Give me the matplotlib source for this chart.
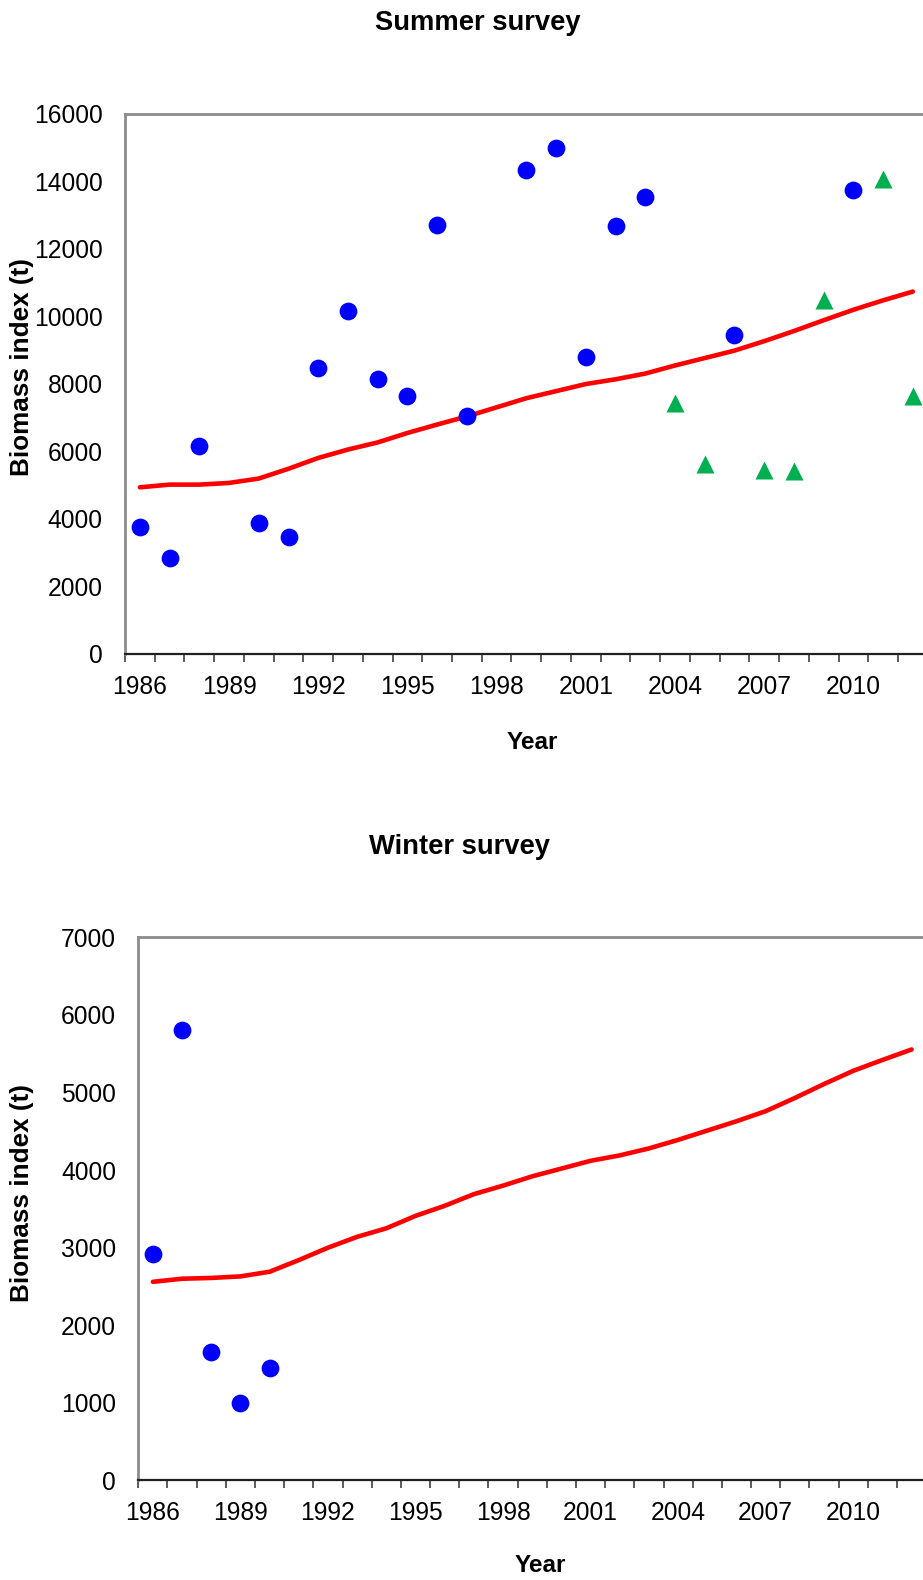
import matplotlib
matplotlib.use("Agg")
import matplotlib.pyplot as plt
from matplotlib.ticker import FixedLocator

plt.rcParams["font.family"] = ["Liberation Sans", "DejaVu Sans"]

years = list(range(1986, 2013))
year_ticks = list(range(1986, 2013, 3))

# summer survey
summer_circle_years = [1986, 1987, 1988, 1990, 1991, 1992, 1993, 1994, 1995, 1996,
                       1997, 1999, 2000, 2001, 2002, 2003, 2006, 2010]
summer_circle = [3740, 2850, 6140, 3880, 3450, 8470, 10150, 8150, 7640, 12710,
                 7030, 14330, 14990, 8780, 12670, 13530, 9450, 13730]
summer_tri_years = [2004, 2005, 2007, 2008, 2009, 2011, 2012]
summer_tri = [7440, 5630, 5430, 5400, 10480, 14060, 7630]
summer_trend = [4930, 5010, 5010, 5060, 5190, 5480, 5800, 6050, 6260, 6540, 6790,
                7030, 7300, 7570, 7780, 7990, 8130, 8300, 8540, 8760, 8980, 9260,
                9560, 9880, 10190, 10470, 10730]

# winter survey
winter_circle_years = [1986, 1987, 1988, 1989, 1990]
winter_circle = [2920, 5800, 1650, 1000, 1445]
winter_trend = [2560, 2600, 2610, 2630, 2690, 2840, 3000, 3140, 3250, 3410, 3540,
                3690, 3800, 3920, 4020, 4120, 4190, 4280, 4390, 4510, 4630, 4760,
                4930, 5110, 5280, 5420, 5555]

W, H = 923, 1580
fig = plt.figure(figsize=(W / 100, H / 100), dpi=100)


def px_axes(left, right, top, bottom):
    return fig.add_axes([left / W, 1 - bottom / H, (right - left) / W, (bottom - top) / H])


def style(ax, ymax, ystep):
    ax.set_xlim(1985.5, 2012.5)
    ax.set_ylim(0, ymax)
    ax.set_yticks(range(0, ymax + 1, ystep))
    ax.set_xticks(year_ticks)
    ax.xaxis.set_minor_locator(FixedLocator([y - 0.5 for y in years] + [2012.5]))
    ax.tick_params(axis="y", length=0, pad=16, labelsize=17.7)
    ax.tick_params(axis="x", which="major", length=0, pad=15, labelsize=17.7)
    ax.tick_params(axis="x", which="minor", length=6, width=1.2, color="#404040",
                   direction="out")
    for side in ["left", "top"]:
        ax.spines[side].set_color("#8c8c8c")
        ax.spines[side].set_linewidth(2)
    ax.spines["bottom"].set_color("#202020")
    ax.spines["bottom"].set_linewidth(1.6)
    ax.spines["right"].set_visible(False)


ax1 = px_axes(125, 927.7, 113.7, 653.7)
ax1.plot(years, summer_trend, color="red", lw=3.3, solid_capstyle="round", zorder=2)
ax1.plot(summer_circle_years, summer_circle, "o", color="#0000ff", ms=12.8, mec="none", zorder=3)
ax1.plot(summer_tri_years, summer_tri, "^", color="#00b050", ms=12.8, mec="none", zorder=3)
style(ax1, 16000, 2000)

ax2 = px_axes(138.3, 926.2, 937.4, 1480.4)
ax2.plot(years, winter_trend, color="red", lw=3.3, solid_capstyle="round", zorder=2)
ax2.plot(winter_circle_years, winter_circle, "o", color="#0000ff", ms=12.8, mec="none", zorder=3)
style(ax2, 7000, 1000)

bold = dict(fontweight="bold", ha="center", va="center")
fig.text(478 / W, 1 - 23 / H, "Summer survey", fontsize=19.7, **bold)
fig.text(459.5 / W, 1 - 846.5 / H, "Winter survey", fontsize=19.7, **bold)
fig.text(532 / W, 1 - 742 / H, "Year", fontsize=17.5, **bold)
fig.text(540 / W, 1 - 1565 / H, "Year", fontsize=17.5, **bold)
fig.text(22 / W, 1 - 367 / H, "Biomass index (t)", rotation=90, fontsize=18.8, **bold)
fig.text(22 / W, 1 - 1193 / H, "Biomass index (t)", rotation=90, fontsize=18.8, **bold)

fig.savefig("out.png", dpi=100)
